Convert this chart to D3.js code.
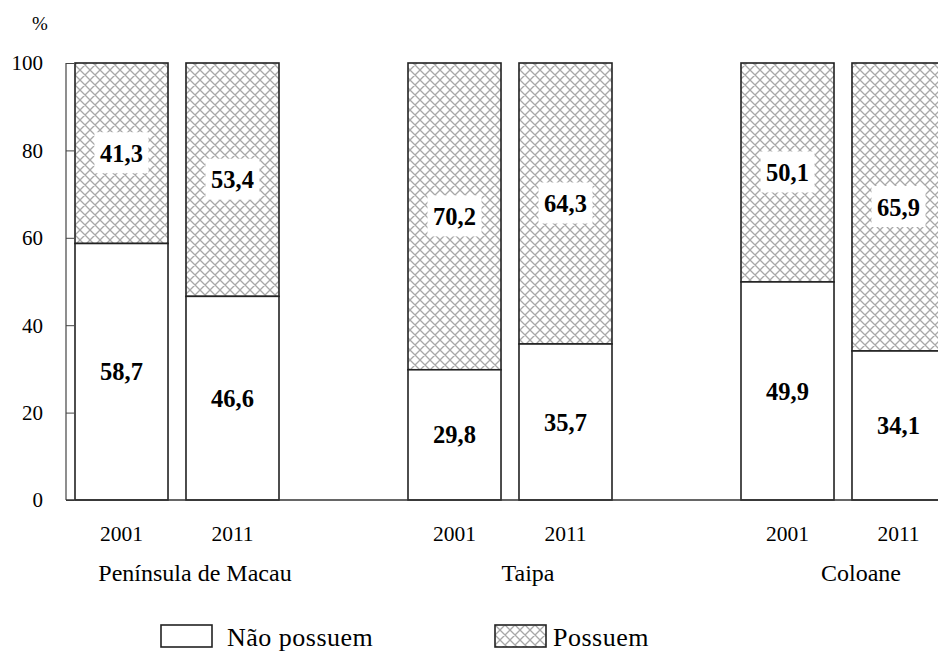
<!DOCTYPE html>
<html>
<head>
<meta charset="utf-8">
<script src="https://cdn.jsdelivr.net/npm/d3@7"></script>
<style>
  body { margin: 0; background: #fff; }
</style>
</head>
<body>
<svg id="chart" width="938" height="653"></svg>
<script>
const groups = ["Península de Macau", "Taipa", "Coloane"];
const years = ["2001", "2011"];
const naoPossuem = [[58.7, 46.6], [29.8, 35.7], [49.9, 34.1]];
const possuem = [[41.3, 53.4], [70.2, 64.3], [50.1, 65.9]];
const yTicks = [0, 20, 40, 60, 80, 100];
const seriesNames = ["Não possuem", "Possuem"];
const fmt = v => d3.format(".1f")(v).replace(".", ",");

const svg = d3.select("#chart");
const defs = svg.append("defs");
const pat = defs.append("pattern").attr("id", "hatch")
  .attr("patternUnits", "userSpaceOnUse").attr("width", 10).attr("height", 10);
pat.append("rect").attr("width", 10).attr("height", 10).attr("fill", "#fff");
pat.append("path").attr("d", "M0,0L10,10M10,0L0,10M-1,9L1,11M9,-1L11,1M-1,1L1,-1M9,11L11,9")
  .attr("stroke", "#a8a8a8").attr("stroke-width", 1.3).attr("fill", "none");

const axisX = 66, plotTop = 63, plotBottom = 500;
const y = d3.scaleLinear().domain([0, 100]).range([plotBottom, plotTop]);
const x0 = d3.scaleBand().domain(groups).range([axisX, axisX + 3 * 333]).padding(0);
const x1 = d3.scaleBand().domain(years).range([9, 213]).paddingInner(0.162).paddingOuter(0);

function txt(sel) { return sel.append("text").style("font-family", "'Liberation Serif'"); }

// y axis
const yAxis = d3.axisRight(y).tickValues(yTicks).tickSize(8).tickFormat("");
const ya = svg.append("g").attr("transform", `translate(${axisX},0)`).call(yAxis);
ya.select(".domain").remove();
ya.selectAll(".tick line").attr("stroke", "#444").attr("stroke-width", 1);
svg.append("line").attr("x1", axisX).attr("x2", axisX).attr("y1", plotTop).attr("y2", plotBottom)
  .attr("stroke", "#444").attr("stroke-width", 1.2);
const yl = svg.append("g");
yTicks.forEach(d => {
  txt(yl).attr("x", 43).attr("y", y(d)).attr("dy", "0.35em")
    .attr("text-anchor", "end").attr("font-size", 21).text(d);
});
txt(svg).attr("x", 40).attr("y", 30).attr("text-anchor", "middle")
  .attr("font-size", 19).text("%");

// bars
const g = svg.append("g");
groups.forEach((grp, gi) => {
  years.forEach((yr, yi) => {
    const bx = x0(grp) + x1(yr);
    const bw = x1.bandwidth();
    const a = naoPossuem[gi][yi], b = possuem[gi][yi];
    g.append("rect").attr("x", bx).attr("y", y(a + b)).attr("width", bw)
      .attr("height", y(a) - y(a + b)).attr("fill", "url(#hatch)")
      .attr("stroke", "#222").attr("stroke-width", 1.6);
    g.append("rect").attr("x", bx).attr("y", y(a)).attr("width", bw)
      .attr("height", y(0) - y(a)).attr("fill", "#fff")
      .attr("stroke", "#222").attr("stroke-width", 1.6);
    const cx = bx + bw / 2;
    const cyTop = (y(a) + y(a + b)) / 2;
    g.append("rect").attr("x", cx - 27).attr("y", cyTop - 21).attr("width", 54).attr("height", 41)
      .attr("fill", "#fff");
    txt(g).attr("x", cx).attr("y", cyTop).attr("dy", "0.35em")
      .attr("text-anchor", "middle").attr("font-size", 24.5).attr("font-weight", "bold").text(fmt(b));
    txt(g).attr("x", cx).attr("y", (y(0) + y(a)) / 2).attr("dy", "0.35em")
      .attr("text-anchor", "middle").attr("font-size", 24.5).attr("font-weight", "bold").text(fmt(a));
    txt(svg).attr("x", cx).attr("y", 541).attr("text-anchor", "middle")
      .attr("font-size", 21.5).text(yr);
  });
  txt(svg).attr("x", x0(grp) + 111 + 18).attr("y", 581).attr("text-anchor", "middle")
    .attr("font-size", 24).text(grp);
});

// x axis line
svg.append("line").attr("x1", axisX).attr("x2", 938).attr("y1", plotBottom).attr("y2", plotBottom)
  .attr("stroke", "#333").attr("stroke-width", 1.4);

// legend
const legBox = [161, 495];
const legText = [227, 553];
const leg = svg.append("g");
seriesNames.forEach((s, i) => {
  leg.append("rect").attr("x", legBox[i]).attr("y", 625).attr("width", 51).attr("height", 22)
    .attr("fill", i === 0 ? "#fff" : "url(#hatch)").attr("stroke", "#222").attr("stroke-width", 1.6);
  txt(leg).attr("x", legText[i]).attr("y", 646).attr("font-size", 26)
    .attr("letter-spacing", 0.5).text(s);
});
</script>
</body>
</html>
